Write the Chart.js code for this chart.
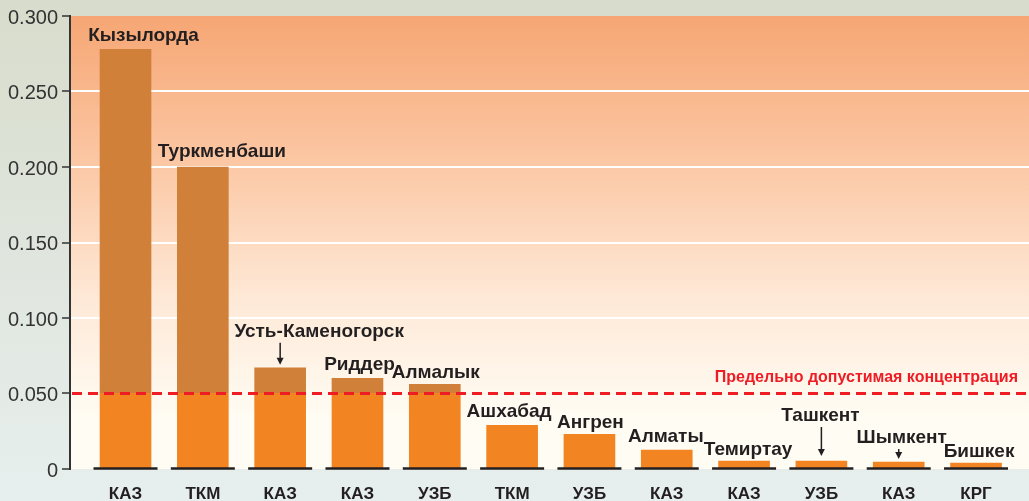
<!DOCTYPE html>
<html>
<head>
<meta charset="utf-8">
<script src="https://cdn.jsdelivr.net/npm/chart.js@4"></script>
<style>
  html, body { margin: 0; padding: 0; }
  body { width: 1029px; height: 501px; overflow: hidden; }
  #wrap { width: 1029px; height: 501px; }
</style>
</head>
<body>
<div id="wrap"><canvas id="chart"></canvas></div>
<script>
// ========== DATA ==========
const cities = ['Кызылорда', 'Туркменбаши', 'Усть-Каменогорск', 'Риддер', 'Алмалык', 'Ашхабад',
                'Ангрен', 'Алматы', 'Темиртау', 'Ташкент', 'Шымкент', 'Бишкек'];
const countries = ['КАЗ', 'ТКМ', 'КАЗ', 'КАЗ', 'УЗБ', 'ТКМ', 'УЗБ', 'КАЗ', 'КАЗ', 'УЗБ', 'КАЗ', 'КРГ'];
const values = [0.278, 0.200, 0.067, 0.060, 0.056, 0.029, 0.023, 0.0125, 0.0053, 0.0053, 0.0046, 0.0040];
const limitValue = 0.05;
const limitText = 'Предельно допустимая концентрация';
const yTicks = [0, 0.05, 0.1, 0.15, 0.2, 0.25, 0.3];

// label placement (px, relative to bar centre / bar top)
const labelDx = [18, 19, 39, 2, 1, -3, 1, -1, 4, -1, 3, 3];
const labelDy = [13, 15, 36, 14, 12, 13, 12, 13, 11, 45, 24, 11];
const arrowGap = { 2: 3, 9: 5, 10: 3 }; // gap between arrow tip and bar top

const BAR_LOW = '#F28522';
const BAR_HIGH = '#D08039';

let barGrad = null, barGradKey = '';
function barColor(ctx) {
    const chart = ctx.chart;
    const area = chart.chartArea;
    if (!area) return BAR_LOW;
    const y = chart.scales.y;
    const key = area.top + ':' + area.bottom;
    if (barGrad && barGradKey === key) return barGrad;
    const yl = y.getPixelForValue(limitValue);
    const f = (area.bottom - yl) / (area.bottom - area.top);
    const g = chart.ctx.createLinearGradient(0, area.bottom, 0, area.top);
    g.addColorStop(0, BAR_LOW);
    g.addColorStop(f, BAR_LOW);
    g.addColorStop(f, BAR_HIGH);
    g.addColorStop(1, BAR_HIGH);
    barGrad = g; barGradKey = key;
    return g;
}

const backgroundPlugin = {
    id: 'bg',
    beforeDraw(chart) {
        const { ctx, chartArea: a, width, height } = chart;
        ctx.save();
        const pg = ctx.createLinearGradient(0, 0, 0, height);
        pg.addColorStop(0, '#D8DCCC');
        pg.addColorStop(1, '#E7EFEE');
        ctx.fillStyle = pg;
        ctx.fillRect(0, 0, width, height);

        const y = chart.scales.y;
        const g = ctx.createLinearGradient(0, a.top, 0, y.getPixelForValue(0.035));
        g.addColorStop(0, '#F6A674');
        g.addColorStop(0.35, '#FBC6A2');
        g.addColorStop(0.7, '#FEE8D6');
        g.addColorStop(1, '#FFFCF3');
        ctx.fillStyle = g;
        ctx.fillRect(a.left, a.top, a.right - a.left, a.bottom - a.top);
        ctx.restore();
    }
};

const overlayPlugin = {
    id: 'overlay',
    afterDatasetsDraw(chart) {
        const { ctx, chartArea: a } = chart;
        const x = chart.scales.x, y = chart.scales.y;
        const y0 = y.getPixelForValue(0);
        ctx.save();

        // black base under each bar
        ctx.strokeStyle = '#231F20';
        ctx.lineWidth = 2.5;
        values.forEach((v, i) => {
            const cx = x.getPixelForValue(i);
            ctx.beginPath();
            ctx.moveTo(cx - 32, y0 - 0.5);
            ctx.lineTo(cx + 32, y0 - 0.5);
            ctx.stroke();
        });

        // limit line
        const yl = y.getPixelForValue(limitValue);
        ctx.strokeStyle = '#EE1C25';
        ctx.lineWidth = 3;
        ctx.setLineDash([10, 6]);
        ctx.beginPath();
        ctx.moveTo(a.left + 2, yl);
        ctx.lineTo(a.right, yl);
        ctx.stroke();
        ctx.setLineDash([]);

        ctx.fillStyle = '#EE1C25';
        ctx.font = 'bold 16px "Liberation Sans", Arial, sans-serif';
        ctx.textAlign = 'right';
        ctx.textBaseline = 'middle';
        ctx.fillText(limitText, a.right - 11, yl - 16);

        // city labels
        ctx.fillStyle = '#231F20';
        ctx.strokeStyle = '#231F20';
        ctx.font = 'bold 19px "Liberation Sans", Arial, sans-serif';
        ctx.textAlign = 'center';
        cities.forEach((name, i) => {
            const cx = x.getPixelForValue(i);
            const top = y.getPixelForValue(values[i]);
            const ly = top - labelDy[i];
            ctx.fillText(name, cx + labelDx[i], ly);
            if (arrowGap[i] !== undefined) {
                const y1 = ly + 11;
                const y2 = top - arrowGap[i];
                ctx.lineWidth = 1.5;
                ctx.beginPath();
                ctx.moveTo(cx, y1);
                ctx.lineTo(cx, y2 - 4);
                ctx.stroke();
                ctx.beginPath();
                ctx.moveTo(cx - 3.5, y2 - 7);
                ctx.lineTo(cx + 3.5, y2 - 7);
                ctx.lineTo(cx, y2);
                ctx.closePath();
                ctx.fill();
            }
        });
        ctx.restore();
    }
};

new Chart(document.getElementById('chart'), {
    type: 'bar',
    data: {
        datasets: [{
            data: values.map((v, i) => ({ x: i, y: v })),
            backgroundColor: barColor,
            barThickness: 51,
            borderWidth: 0
        }]
    },
    options: {
        responsive: true,
        maintainAspectRatio: false,
        animation: false,
        layout: { padding: { top: 16, right: 0, bottom: 0, left: 0 } },
        plugins: { legend: { display: false }, tooltip: { enabled: false } },
        scales: {
            x: {
                type: 'linear',
                offset: false,
                min: -0.718,
                max: 11.685,
                afterBuildTicks: s => { s.ticks = countries.map((c, i) => ({ value: i })); },
                afterFit: s => { s.height = 32; },
                grid: { display: false, drawTicks: false },
                border: { display: false },
                ticks: {
                    autoSkip: false,
                    maxRotation: 0,
                    padding: 15,
                    color: '#231F20',
                    font: { family: '"Liberation Sans", Arial, sans-serif', size: 17, weight: 'bold' },
                    callback: v => countries[v]
                }
            },
            y: {
                min: 0,
                max: 0.3,
                afterBuildTicks: s => { s.ticks = yTicks.map(v => ({ value: v })); },
                afterFit: s => { s.width = 70; },
                grid: {
                    color: c => (c.tick && c.tick.value > 0.06 && c.tick.value < 0.29) ? '#FFFFFF' : 'rgba(0,0,0,0)',
                    lineWidth: 2,
                    tickColor: '#333333',
                    tickLength: 8,
                    tickWidth: 1.5
                },
                border: { display: true, color: '#333333', width: 2 },
                ticks: {
                    padding: 4,
                    labelOffset: 2,
                    color: '#333333',
                    font: { family: '"Liberation Sans", Arial, sans-serif', size: 20 },
                    callback: v => v === 0 ? '0' : v.toFixed(3)
                }
            }
        }
    },
    plugins: [backgroundPlugin, overlayPlugin]
});
</script>
</body>
</html>
